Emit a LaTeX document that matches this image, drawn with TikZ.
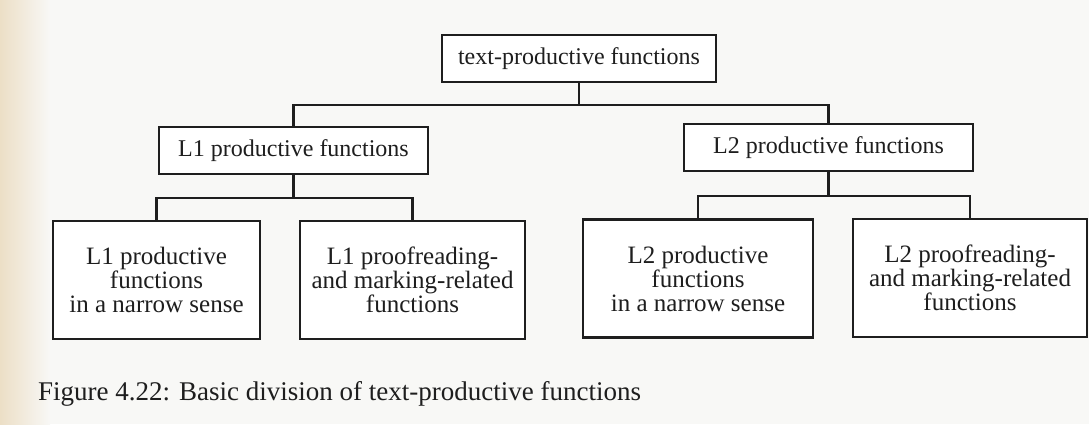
\documentclass[tikz,border=0pt]{standalone}
\usepackage{fontspec}
\setmainfont{Liberation Serif}
\usepackage{xcolor}
\usetikzlibrary{positioning,calc}

\definecolor{paper}{HTML}{F8F8F6}
\definecolor{binding}{HTML}{ECDFC6}
\definecolor{ink}{HTML}{1E1E1E}

\begin{document}
\begin{tikzpicture}[x=1pt, y=-1pt,
        every node/.style={font=\fontsize{24}{25}\selectfont, text=ink},
        fnbox/.style={draw=ink, line width=2.2pt, fill=white, minimum height=47pt, inner sep=0pt},
        leafbox/.style={draw=ink, line width=2.2pt, fill=white, minimum height=118pt, inner sep=0pt, align=center, font=\fontsize{25}{24}\selectfont},
        tree/.style={draw=ink, line width=2.2pt}]
        % Page
        \useasboundingbox (0,0) rectangle (1089,424);
        \fill[paper] (0,0) rectangle (1089,424);
        \shade[left color=binding, right color=paper] (0,0) rectangle (50,424);

        % Top
        \node[fnbox, minimum width=274pt] (top) at (579,58.5) {text-productive functions};

        % Second level
        \node[fnbox, minimum width=269pt] (lone) at (293.5,150.5) {L1 productive functions};
        \node[fnbox, minimum width=289pt] (ltwo) at (828.5,147.5) {L2 productive functions};
        \coordinate (jtop) at ($(top.south)+(0,22)$);
        \draw[tree] (top.south) -- (jtop);
        \draw[tree] (lone.north) |- (jtop) -| (ltwo.north);

        % L1 leaves
        \node[leafbox, minimum width=207pt] (lonenarrow) at (156.5,280) {L1 productive\\functions\\in a narrow sense};
        \node[leafbox, minimum width=225pt] (loneproof) at (412.5,280) {L1 proofreading-\\and marking-related\\functions};
        \coordinate (jone) at ($(lone.south)+(0,23)$);
        \draw[tree] (lone.south) -- (jone);
        \draw[tree] (lonenarrow.north) |- (jone) -| (loneproof.north);

        % L2 leaves
        \node[leafbox, minimum width=230pt] (ltwonarrow) at (698,278.5) {L2 productive\\functions\\in a narrow sense};
        \node[leafbox, minimum width=234pt] (ltwoproof) at (970,278) {L2 proofreading-\\and marking-related\\functions};
        \coordinate (jtwo) at ($(ltwo.south)+(0,24)$);
        \draw[tree] (ltwo.south) -- (jtwo);
        \draw[tree] (ltwonarrow.north) |- (jtwo) -| (ltwoproof.north);

        % Caption
        \node[anchor=base west, inner sep=0pt, font=\fontsize{27}{28}\selectfont] (caption) at (38,400) {Figure 4.22: Basic division of text-productive functions};
    \end{tikzpicture}
\end{document}
